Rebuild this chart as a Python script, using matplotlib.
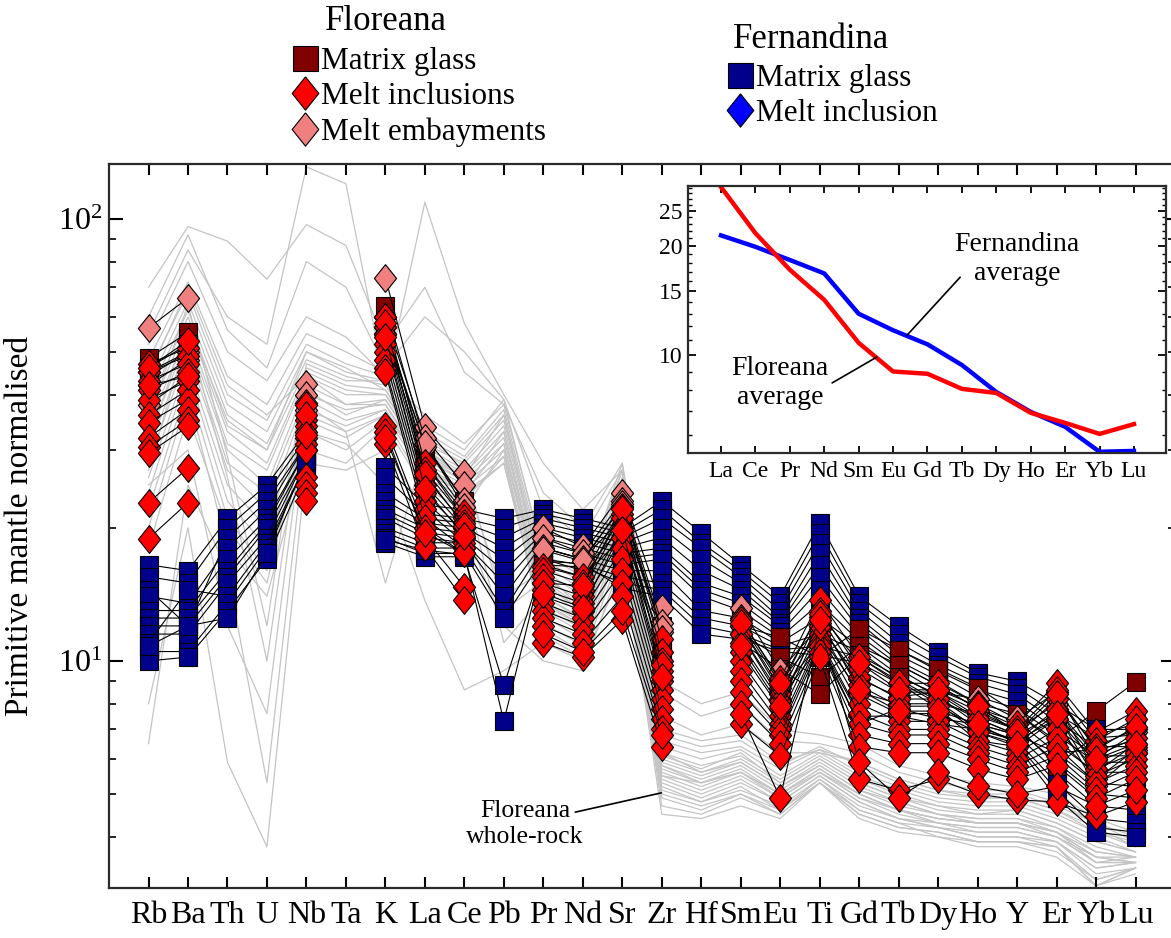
import numpy as np
import matplotlib
matplotlib.use('Agg')
import matplotlib.pyplot as plt
from matplotlib.lines import Line2D
from matplotlib.ticker import FixedLocator, NullFormatter, FuncFormatter, LogFormatterMathtext

plt.rcParams['font.family'] = ['Liberation Serif', 'DejaVu Serif']
plt.rcParams['mathtext.fontset'] = 'stix'

nan = np.nan

elements = ['Rb', 'Ba', 'Th', 'U', 'Nb', 'Ta', 'K', 'La', 'Ce', 'Pb', 'Pr', 'Nd', 'Sr',
            'Zr', 'Hf', 'Sm', 'Eu', 'Ti', 'Gd', 'Tb', 'Dy', 'Ho', 'Y', 'Er', 'Yb', 'Lu']
ree = ['La', 'Ce', 'Pr', 'Nd', 'Sm', 'Eu', 'Gd', 'Tb', 'Dy', 'Ho', 'Er', 'Yb', 'Lu']

# Floreana whole-rock (grey)
whole_rock = [
    [48, 72, 44, 38, 55, 50, 45, 34, 30, 39, 17, 15, 28, 6.8, 6.4, 6.6, 5.8, 6.4, 5.8, 5.3, 5.0, 4.9, 4.9, 4.6, 4.2, 3.8],
    [45, 68, 40, 35, 52, 47, 44, 33, 29, 37, 16.5, 14.5, 27, 6.6, 6.2, 6.4, 5.7, 6.3, 5.6, 5.2, 4.9, 4.8, 4.8, 4.5, 4.1, 3.8],
    [42, 65, 38, 33, 50, 45, 43, 32, 28.5, 36, 16, 14, 26, 6.4, 6.0, 6.3, 5.5, 6.2, 5.5, 5.1, 4.8, 4.7, 4.7, 4.4, 4.0, 3.7],
    [40, 62, 36, 31, 48, 44, 42, 31, 28, 35, 15.5, 13.5, 25, 6.2, 5.8, 6.1, 5.4, 6.1, 5.4, 5.0, 4.7, 4.6, 4.6, 4.3, 3.9, 3.7],
    [38, 60, 34, 30, 46, 42, 41, 30.5, 27, 34, 15, 13, 24, 6.0, 5.6, 6.0, 5.3, 6.0, 5.3, 4.9, 4.6, 4.5, 4.5, 4.2, 3.8, 3.6],
    [36, 58, 33, 28, 45, 41, 40, 30, 26.5, 33, 14.5, 12.8, 23.5, 5.9, 5.5, 5.9, 5.2, 5.9, 5.2, 4.8, 4.5, 4.4, 4.4, 4.2, 3.7, 3.6],
    [34, 56, 31, 27, 44, 40, 40, 29, 26, 32, 14, 12.5, 23, 5.8, 5.4, 5.8, 5.1, 5.8, 5.1, 4.7, 4.5, 4.3, 4.3, 4.1, 3.7, 3.6],
    [32, 54, 30, 25, 42, 38, 39, 28.5, 25.5, 31, 13.7, 12.2, 22, 5.6, 5.2, 5.6, 5.0, 5.7, 5.0, 4.6, 4.4, 4.3, 4.3, 4.0, 3.6, 3.5],
    [30, 52, 28, 24, 40, 37, 38, 28, 25, 30, 13.4, 12, 21.5, 5.5, 5.1, 5.5, 4.9, 5.6, 4.9, 4.5, 4.3, 4.2, 4.2, 4.0, 3.5, 3.5],
    [28, 50, 27, 22, 39, 35, 37, 27, 24.5, 29, 13, 11.6, 21, 5.3, 4.9, 5.3, 4.8, 5.5, 4.8, 4.4, 4.3, 4.1, 4.1, 3.9, 3.4, 3.5],
    [26, 47, 25, 20, 37, 34, 37, 26.5, 24, 28, 12.6, 11.2, 20, 5.1, 4.8, 5.1, 4.7, 5.4, 4.7, 4.4, 4.2, 4.0, 4.0, 3.9, 3.3, 3.4],
    [24, 45, 23, 18, 35, 32, 36, 26, 23.5, 28, 12.2, 10.8, 19.5, 4.9, 4.6, 5.0, 4.6, 5.4, 4.6, 4.3, 4.2, 4.0, 4.0, 3.8, 3.2, 3.4],
    [22, 42, 21, 16, 33, 30, 35, 25, 23, 29, 11.8, 10.5, 19, 4.7, 4.5, 4.9, 4.5, 5.3, 4.5, 4.2, 4.1, 3.9, 3.9, 3.8, 3.1, 3.4],
    [20, 40, 18, 14, 30, 28, 34, 24.5, 22, 30, 11.4, 10.2, 18, 4.5, 4.4, 4.7, 4.4, 5.3, 4.5, 4.2, 4.1, 3.9, 3.9, 3.8, 3.1, 3.4],
    [35, 64, 29, 12, 47, 43, 43, 32, 27.5, 13, 15.2, 13.2, 24.5, 6.1, 5.7, 6.2, 5.3, 6.0, 5.3, 4.9, 4.7, 4.5, 4.6, 4.3, 3.9, 3.7],
    [27, 55, 26, 10, 41, 36, 39, 29, 25.5, 11, 14, 12.4, 22.5, 5.5, 5.3, 5.7, 5.0, 5.7, 5.0, 4.6, 4.4, 4.3, 4.3, 4.1, 3.6, 3.5],
    [31, 58, 35, 30, 50, 46, 41, 29.5, 26, 36, 14.8, 13, 25.5, 6.2, 5.6, 5.9, 5.2, 5.8, 5.1, 4.8, 4.5, 4.4, 4.4, 4.1, 3.6, 3.6],
    [44, 70, 42, 36, 44, 38, 38, 27, 24, 31, 13.2, 11.8, 21, 5.4, 5.0, 5.4, 4.8, 5.5, 4.8, 4.4, 4.2, 4.1, 4.1, 3.9, 3.4, 3.5],
    [18, 36, 20, 15, 36, 33, 36, 27.5, 24.5, 33, 13.6, 12, 22.5, 5.7, 5.3, 5.6, 5.0, 5.6, 5.0, 4.6, 4.4, 4.3, 4.3, 4.1, 3.5, 3.6],
    [52, 80, 50, 43, 60, 54, 44, 36, 31, 38, 17.5, 15.5, 27, 7.0, 6.6, 6.8, 5.9, 6.3, 5.9, 5.4, 5.1, 5.0, 5.0, 4.7, 4.3, 3.9],
    [70, 96, 89, 73, 97, 87, 52, 70, 45, 38, 24, 20, 28, 8.5, 7.5, 8.0, 6.6, 6.5, 6.2, 5.6, 5.3, 5.1, 5.1, 4.8, 4.3, 4.0],
    [55, 85, 60, 52, 131, 120, 42, 109, 58, 40, 28, 22, 27, 9.0, 8.0, 8.5, 7.0, 6.8, 6.5, 5.8, 5.5, 5.3, 5.2, 5.0, 4.4, 4.1],
    [8, 20, 5.9, 3.8, 28, 27, 30, 22, 20, 12, 10, 9.5, 17, 5.2, 4.8, 5.2, 4.6, 5.3, 4.6, 4.3, 4.0, 3.9, 3.9, 3.7, 3.2, 3.4],
    [6.5, 25, 16, 5.3, 33, 31, 25, 13.7, 8.6, 9.5, 11, 10, 16, 5.0, 4.7, 5.0, 4.5, 5.3, 4.4, 4.1, 4.0, 3.8, 3.8, 3.6, 3.1, 3.3],
    [25, 30, 12, 7.6, 38, 33, 15, 30, 26, 14, 16, 13, 20, 5.8, 5.3, 5.6, 4.9, 5.6, 4.9, 4.6, 4.3, 4.2, 4.2, 4.0, 3.5, 3.5],
    [60, 92, 56, 46, 80, 70, 46, 60, 50, 39, 22, 19, 27, 7.5, 6.8, 7.2, 6.2, 6.2, 5.9, 5.4, 5.1, 4.9, 4.9, 4.6, 4.1, 3.9],
]

# Fernandina matrix glass (navy squares)
fernandina_glass = [
    [16.5, 16, 21, 25, 33, nan, 27.5, 22.5, 22, 21, 22, 21, 20, 23, 19.5, 16.5, 14, 20.5, 14, 12, 10.5, 9.4, 9, 8, 7, 7],
    [15.5, 15, 20, 24, 32, nan, 26, 21.5, 21, 20, 21.5, 20.5, 19.5, 22, 18.5, 16, 13.5, 19.5, 13.5, 11.5, 10.2, 9.2, 8.7, 7.6, 6.7, 6.8],
    [14.5, 12, 19, 23, 31, nan, 24, 21, 20.5, 19, 21, 20, 19, 21, 18, 15.5, 13, 18.5, 13, 11, 9.8, 8.9, 8.4, 7.3, 6.4, 6.4],
    [14, 13.5, 18, 22, 31, nan, 23, 20.5, 20, 18, 20.5, 19.5, 18.5, 20, 17, 15, 12.5, 17.5, 12.5, 10.6, 9.5, 8.6, 8.1, 7, 6.1, 6.1],
    [13, 13, 17, 21, 30, nan, 22, 20, 19.5, 17, 20, 19, 18, 19, 16, 14.5, 12.2, 16.5, 12.2, 10.3, 9.3, 8.3, 7.8, 6.8, 5.9, 5.9],
    [12.5, 12.5, 16, 20.5, 30, nan, 21.5, 19.5, 19, 16, 19.5, 18.5, 17.5, 18, 15, 14, 12, 15.5, 11.8, 10, 9, 8, 7.6, 6.5, 5.6, 5.6],
    [12, 12, 15.5, 20, 29, nan, 21, 19, 18.5, 15, 19, 18, 17, 17.5, 14.5, 13.5, 11.6, 14.5, 11.4, 9.8, 8.8, 7.8, 7.3, 6.2, 5.3, 5.2],
    [11.5, 11.5, 15, 19, 29, nan, 20, 18.5, 18.5, 14, 18.5, 17.5, 16.5, 17, 14, 13, 11.3, 13.5, 11.1, 9.6, 8.5, 7.5, 7, 5.9, 5, 4.9],
    [11, 14.5, 14, 18.5, 28, nan, 19.5, 18, 18, 13, 18, 17, 16, 16, 13, 12.5, 11, 12.5, 10.8, 9.3, 8.3, 7.2, 6.8, 5.6, 4.7, 4.6],
    [10.5, 10.5, 13.5, 18, 28, nan, 19, 17.5, 17.5, 12.5, 17, 16.5, 15.5, 15, 12.5, 12, 10.8, 11.5, 10.5, 9.1, 8.1, 7, 6.6, 5.3, 4.4, 4.3],
    [10, 10.2, 13, 17, 27, nan, 18.5, 17.2, 17.2, 8.8, 16.5, 16.3, 15, 14.5, 12, 11.5, 10.6, 10.8, 10.2, 9, 8, 6.9, 6.5, 5.1, 4.2, 4.1],
    [10.8, 12, 12.5, 17.5, 28.5, nan, 18.8, 17.8, 17.4, 7.3, 16.8, 16.6, 14.6, 14, 11.5, 11.2, 10.5, 10.3, 9.9, 8.9, 7.8, 6.6, 6.4, 4.9, 4.1, 4.0],
]

# Floreana matrix glass (dark red squares)
floreana_glass = [
    [48.4, 55.3, nan, nan, 36, nan, 63.4, 31, 23, nan, 18, 17, 21, 12, nan, 12, 11.3, 10.2, 11.8, 10.6, 9.6, 8.7, 7.6, 6.6, 7.7, 8.96],
    [46, 52, nan, nan, 34, nan, 58, 29, 22, nan, 17, 16, 20, 11, nan, 11.5, 10.2, 9.2, 10.8, 9.8, 8.8, 7.8, 7.1, 5.8, 6.8, 7.2],
    [44, 50, nan, nan, 33, nan, 55, 28, 21, nan, 16.5, 15.5, 19, 10.5, nan, 11, 9.6, 8.4, 10.3, 9.2, 8.4, 7.4, 6.8, 6.2, 6.3, 6.6],
]

# Floreana melt embayments (pink diamonds)
floreana_embayments = [
    [56.6, 66.2, nan, nan, 42.4, nan, 73.6, 33.8, 26.6, nan, 20, 18.1, 24, 13.2, nan, 13.2, 9.5, 12, 9.1, 8.3, 8.5, 8.2, 7.4, 8.5, 6.0, 6.9],
    [45, 50, nan, nan, 40, nan, 60, 32, 25, nan, 19, 17.5, 23, 12.2, nan, 12.5, 9, 11.5, 8.5, 8, 8, 7.6, 7, 8, 5.6, 6.5],
    [42, 48, nan, nan, 38.3, nan, 57, 30.5, 23, nan, 18, 17, 22.3, 11.6, nan, 12, 8.5, 11, 7.5, 7.5, 7.2, 7, 6.6, 7.4, 5.2, 6.2],
    [38, 44, nan, nan, 37, nan, 55, 31, 22.3, nan, 17.8, 16.8, 22.6, 11.8, nan, 11.5, 8.2, 10.8, 7.2, 7.8, 7.4, 7.2, 6.8, 7.6, 5.4, 6.3],
]

# Floreana melt inclusions (red diamonds)
floreana_inclusions = [
    [47, 51, nan, nan, 38, nan, 60, 28, 21.6, nan, 16.3, 15.5, 22.3, 11.2, nan, 12.4, 9.1, 13.7, 10.2, 8.9, 8.9, 8.0, 7.2, 8.9, 6.9, 7.7],
    [45, 49, nan, nan, 35, nan, 57, 27, 21, nan, 16, 15, 21.5, 10.5, nan, 12, 8.7, 13, 9.6, 8.5, 8.5, 7.7, 7.0, 8.6, 6.6, 7.4],
    [43, 47, nan, nan, 34, nan, 55, 26, 20.5, nan, 15.5, 14.5, 21, 10, nan, 11.5, 8.4, 12.6, 9.2, 8.2, 8.2, 7.4, 6.8, 8.2, 6.4, 7.0],
    [41, 45, nan, nan, 33, nan, 52, 25, 20, nan, 15, 14, 20, 9.5, nan, 11, 8.1, 12.2, 8.8, 7.9, 7.9, 7.1, 6.6, 7.8, 6.1, 6.7],
    [39, 43, nan, nan, 32, nan, 50, 24, 19.5, nan, 14.5, 13.5, 19, 9, nan, 10.5, 7.8, 11.8, 8.4, 7.6, 7.6, 6.9, 6.4, 7.4, 5.9, 6.4],
    [36, 41, nan, nan, 31, nan, 48, 23, 19, nan, 14, 13, 18, 8.6, nan, 10, 7.5, 11.5, 8, 7.3, 7.3, 6.6, 6.2, 7.0, 5.7, 6.2],
    [34.6, 39, nan, nan, 30, nan, 46, 22, 18.5, nan, 13.5, 12.5, 17, 8.2, nan, 9.5, 7.2, 11.2, 7.6, 7, 7, 6.4, 6.0, 6.7, 5.5, 6.0],
    [32, 37, nan, nan, 30, nan, 45, 21, 18, nan, 13, 12, 16, 7.8, nan, 9, 7, 11, 7.2, 6.8, 6.8, 6.2, 5.8, 6.4, 5.3, 5.8],
    [30.5, 35, nan, nan, 26, nan, 34, 20, 17.5, nan, 12.5, 11.5, 15, 7.4, nan, 8.5, 6.8, 10.8, 6.8, 6.5, 6.5, 6, 5.6, 6.1, 5.1, 5.6],
    [29.5, 33.9, nan, nan, 25, nan, 33, 19, 14.7, nan, 12, 11, 14, 7.0, nan, 8, 6.5, 10.5, 6.4, 6.2, 6.2, 5.7, 5.4, 5.8, 4.9, 5.4],
    [22.8, 27.3, nan, nan, 24, nan, 31, 18.1, 13.7, nan, 11, 10.2, 12.4, 6.4, nan, 7.2, 6.1, 10.2, 5.4, 5.1, 5.4, 5.0, 4.85, 4.8, 4.45, 4.8],
    [18.9, 22.8, nan, nan, 23, nan, 32, 19.5, 17.5, nan, 11.5, 10.5, 13, 6.8, nan, 7.6, 4.9, 12.0, 5.9, 4.9, 5.6, 5.2, 5.0, 5.2, 4.7, 5.1],
    [46, 53, nan, nan, 36, nan, 58, 26.5, 20.2, nan, 15, 14.8, 22, 9.8, nan, 12.2, 8.9, 12.8, 9.9, 8.6, 8.6, 7.9, 6.9, 8.4, 6.3, 7.1],
    [42, 44, nan, nan, 32.5, nan, 54, 24.5, 19.2, nan, 14.2, 13.2, 19.8, 9.2, nan, 10.8, 7.9, 12.4, 8.6, 7.7, 7.7, 7.2, 6.5, 7.6, 6.0, 6.5],
]

# inset: REE averages
floreana_avg = [29.1, 21.7, 17.2, 14.2, 10.8, 9.0, 8.87, 8.06, 7.85, 6.92, 6.49, 6.05, 6.44]
fernandina_avg = [21.4, 19.9, 18.3, 16.8, 13.0, 11.7, 10.7, 9.38, 7.9, 6.96, 6.33, 5.40, 5.43]

c_navy = '#00008B'
c_darkred = '#800000'
c_red = '#FF0000'
c_pink = '#F08080'
c_blue = '#0000FF'
diamond = [(0, 1), (0.8, 0), (0, -1), (-0.8, 0), (0, 1)]

fig = plt.figure(figsize=(11.71, 9.38), dpi=100)
ax = fig.add_axes([0.0931, 0.0533, 0.9103, 0.7719])
x = np.arange(len(elements))

for row in whole_rock:
    ax.plot(x, row, color='#c4c4c4', lw=0.9, zorder=1)

def plot_group(rows, marker, ms, fc, z):
    for row in rows:
        ax.plot(x, row, '-', color='k', lw=0.8, marker=marker, ms=ms,
                mfc=fc, mec='k', mew=0.8, zorder=z)

plot_group(fernandina_glass, 's', 12.3, c_navy, 2)
plot_group(floreana_glass, 's', 12.3, c_darkred, 3)
plot_group(floreana_embayments, diamond, 20, c_pink, 4)
plot_group(floreana_inclusions, diamond, 20, c_red, 5)

ax.set_yscale('log')
ax.set_ylim(3.065, 133)
ax.set_xlim(-1, 26)
ax.set_xticks(x)
ax.set_xticklabels(elements)
ax.yaxis.set_major_formatter(LogFormatterMathtext())
ax.yaxis.set_minor_formatter(NullFormatter())
ax.tick_params(axis='x', which='major', direction='in', top=True, bottom=True,
               length=8, width=1.5, labelsize=23, pad=9)
ax.tick_params(axis='y', which='major', direction='in', left=True, right=True,
               length=10, width=1.5, labelsize=23, pad=5)
ax.tick_params(axis='y', which='minor', direction='in', left=True, right=True,
               length=5, width=1.2)
for s in ax.spines.values():
    s.set_linewidth(1.6)
    s.set_color('#2b2b2b')
ax.set_ylabel('Primitive mantle normalised', fontsize=24)
ax.yaxis.set_label_coords(-0.069, 0.5)

ax.text(9.54, 4.28, 'Floreana\nwhole-rock', ha='center', va='center', fontsize=18.5)
ax.annotate('', xy=(12.99, 5.03), xytext=(10.81, 4.55),
            arrowprops=dict(arrowstyle='-', color='k', lw=1.2, shrinkA=0, shrinkB=0))

# inset
axin = fig.add_axes([0.5875, 0.5171, 0.4082, 0.2846])
xr = np.arange(len(ree))
axin.plot(xr, fernandina_avg, color=c_blue, lw=3.2)
axin.plot(xr, floreana_avg, color=c_red, lw=3.2)
axin.set_yscale('log')
axin.set_ylim(5.36, 29.3)
axin.set_xlim(-0.96, 12.93)
axin.set_xticks(xr)
axin.set_xticklabels(ree)
axin.yaxis.set_major_locator(FixedLocator([10, 15, 20, 25]))
axin.yaxis.set_major_formatter(FuncFormatter(lambda v, p: '%d' % round(v)))
axin.yaxis.set_minor_locator(FixedLocator(np.arange(6, 30)))
axin.yaxis.set_minor_formatter(NullFormatter())
axin.tick_params(axis='x', which='major', direction='in', top=True, bottom=True,
                 length=5, width=1.3, labelsize=17, pad=6)
axin.tick_params(axis='y', which='major', direction='in', left=True, right=True,
                 length=6, width=1.3, labelsize=17, pad=4)
axin.tick_params(axis='y', which='minor', direction='in', left=True, right=True,
                 length=3, width=1.0)
for s in axin.spines.values():
    s.set_linewidth(1.6)
    s.set_color('#2b2b2b')

axin.text(8.6, 18.4, 'Fernandina\naverage', ha='center', va='center', fontsize=20)
axin.annotate('', xy=(5.41, 11.35), xytext=(6.95, 16.4),
              arrowprops=dict(arrowstyle='-', color='k', lw=1.2, shrinkA=0, shrinkB=0))
axin.text(1.72, 8.37, 'Floreana\naverage', ha='center', va='center', fontsize=20)
axin.annotate('', xy=(4.53, 9.87), xytext=(3.23, 8.37),
              arrowprops=dict(arrowstyle='-', color='k', lw=1.2, shrinkA=0, shrinkB=0))

# legends
fig.text(386 / 1171, 1 - 22 / 938, 'Floreana', ha='center', va='center', fontsize=25)
fig.text(811 / 1171, 1 - 40 / 938, 'Fernandina', ha='center', va='center', fontsize=25)

h_flor = [
    Line2D([], [], ls='none', marker='s', ms=18, mfc=c_darkred, mec='k', mew=0.8),
    Line2D([], [], ls='none', marker=diamond, ms=24, mfc=c_red, mec='k', mew=0.8),
    Line2D([], [], ls='none', marker=diamond, ms=24, mfc=c_pink, mec='k', mew=0.8),
]
h_fern = [
    Line2D([], [], ls='none', marker='s', ms=18, mfc=c_navy, mec='k', mew=0.8),
    Line2D([], [], ls='none', marker=diamond, ms=24, mfc=c_blue, mec='k', mew=0.8),
]
leg_kw = dict(loc='upper left', frameon=False, fontsize=22.5, handlelength=0.75,
              handletextpad=0.15, labelspacing=0.2, borderaxespad=0, borderpad=0)
fig.legend(h_flor, ['Matrix glass', 'Melt inclusions', 'Melt embayments'],
           bbox_to_anchor=(0.2504, 0.9501), **leg_kw)
fig.legend(h_fern, ['Matrix glass', 'Melt inclusion'],
           bbox_to_anchor=(0.6218, 0.932), **leg_kw)

fig.savefig('out.png', dpi=100)
